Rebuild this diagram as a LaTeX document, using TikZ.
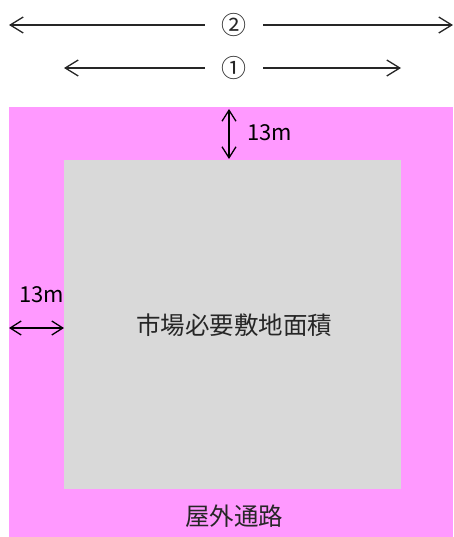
\documentclass[tikz,border=0pt]{standalone}
\usepackage{fontspec}
\setmainfont{Noto Sans CJK JP}
\usetikzlibrary{arrows.meta}
\definecolor{pinkbg}{HTML}{FF99FF}
\definecolor{graybg}{HTML}{D9D9D9}
\definecolor{txt}{HTML}{262626}
\tikzset{
  tipbig/.style={-{Straight Barb[length=13pt,width=16pt,line width=1.3pt]}},
  arrs/.style={line width=1.3pt, black, {Straight Barb[length=11pt,width=14pt,line width=1.3pt]}-{Straight Barb[length=11pt,width=14pt,line width=1.3pt]}},
  dimline/.style={line width=1.3pt, txt, tipbig},
  area/.style={draw=none, anchor=north west, inner sep=0pt},
  gaplabel/.style={minimum width=58pt, inner sep=0pt, font=\fontsize{25}{28}\selectfont, text=txt},
  dimlabel/.style={inner sep=0pt, font=\fontsize{22}{24}\selectfont, text=black, anchor=west},
  bigtext/.style={inner sep=0pt, font=\fontsize{24.5}{28}\selectfont, text=txt}
}
\begin{document}
\begin{tikzpicture}[x=1pt,y=-1pt]
\useasboundingbox (0,0) rectangle (453,537);
\node[area, fill=pinkbg, minimum width=444pt, minimum height=430pt] (outer) at (9,107) {};
\node[area, fill=graybg, minimum width=337pt, minimum height=329pt] (inner) at (64,160) {};
% dimension 2
\node[gaplabel] (l2) at (234,25) {②};
\coordinate (a2l) at (9,25);
\coordinate (a2r) at (453,25);
\draw[dimline] (l2.west) -- (a2l);
\draw[dimline] (l2.east) -- (a2r);
% dimension 1
\node[gaplabel] (l1) at (234,68) {①};
\coordinate (a1l) at (64,68);
\coordinate (a1r) at (401,68);
\draw[dimline] (l1.west) -- (a1l);
\draw[dimline] (l1.east) -- (a1r);
% top 13m
\coordinate (vt) at (229,109);
\coordinate (vb) at (229,159);
\draw[arrs] (vt) -- (vb);
\node[dimlabel] (dtop) at (247,133) {13m};
% left 13m
\coordinate (hl) at (9,328);
\coordinate (hr) at (64,328);
\draw[arrs] (hl) -- (hr);
\node[dimlabel] (dleft) at (19,295) {13m};
% texts
\node[bigtext] (main) at (234,325) {市場必要敷地面積};
\node[bigtext] (road) at (234,516) {屋外通路};
\end{tikzpicture}
\end{document}
